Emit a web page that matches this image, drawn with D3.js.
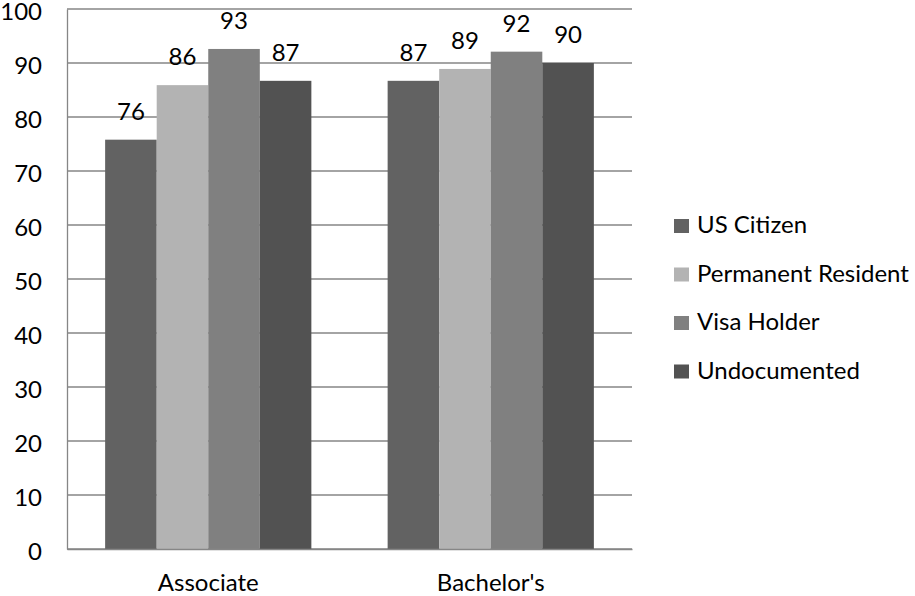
<!DOCTYPE html>
<html>
<head>
<meta charset="utf-8">
<script src="https://cdn.jsdelivr.net/npm/d3@7"></script>
<style>
  html, body { margin: 0; padding: 0; background: #fff; }
  svg { display: block; font-family: Lato, "Open Sans", sans-serif; }
</style>
</head>
<body>
<svg id="chart" width="915" height="596"></svg>
<script>
// ── Data ────────────────────────────────────────────────────────────────────
const categories = ['Associate', "Bachelor's"];
const seriesNames = ['US Citizen', 'Permanent Resident', 'Visa Holder', 'Undocumented'];
const seriesColors = ['#626262', '#b3b3b3', '#808080', '#525252'];
// values per series, one per category
const usCitizen = [75.8, 86.7];
const permanentResident = [85.9, 88.9];
const visaHolder = [92.6, 92.1];
const undocumented = [86.7, 90.0];
const yTicks = [0, 10, 20, 30, 40, 50, 60, 70, 80, 90, 100];

const seriesValues = [usCitizen, permanentResident, visaHolder, undocumented];
const FONT = 24;

// ── Layout ──────────────────────────────────────────────────────────────────
const svg = d3.select('#chart');
const plot = { left: 67, right: 632, top: 9, bottom: 549 };

const x0 = d3.scaleBand().domain(categories).range([plot.left, plot.right]).paddingInner(0.27).paddingOuter(0.135);
const x1 = d3.scaleBand().domain(seriesNames).range([0, x0.bandwidth()]).padding(0);
const y = d3.scaleLinear().domain([0, 100]).range([plot.bottom, plot.top]);

// gridlines
svg.append('g').selectAll('line').data(yTicks).join('line')
  .attr('x1', plot.left).attr('x2', plot.right)
  .attr('y1', d => y(d)).attr('y2', d => y(d))
  .attr('stroke', '#868686').attr('stroke-width', 1.3);

// y axis
const yAxis = svg.append('g').attr('transform', `translate(${plot.left},0)`)
  .call(d3.axisLeft(y).tickValues(yTicks).tickSize(0).tickPadding(25));
yAxis.select('.domain').attr('stroke', '#868686').attr('stroke-width', 1.3);
yAxis.selectAll('text').attr('font-size', FONT).attr('fill', '#000')
  .attr('font-family', 'Lato, sans-serif').attr('dy', '0.42em');

// bars
const groups = svg.append('g').selectAll('g').data(categories).join('g')
  .attr('transform', d => `translate(${x0(d)},0)`);

const cells = (c, ci) => seriesNames.map((s, si) => ({ s, si, v: seriesValues[si][ci] }));

groups.selectAll('rect').data(cells).join('rect')
  .attr('x', d => x1(d.s)).attr('width', x1.bandwidth())
  .attr('y', d => y(d.v)).attr('height', d => y(0) - y(d.v))
  .attr('fill', d => seriesColors[d.si]);

groups.selectAll('text').data(cells).join('text')
  .attr('x', d => x1(d.s) + x1.bandwidth() / 2)
  .attr('y', d => y(d.v) - 20)
  .attr('text-anchor', 'middle')
  .attr('font-size', FONT)
  .text(d => Math.round(d.v));

// x axis
const xAxis = svg.append('g').attr('transform', `translate(0,${plot.bottom})`)
  .call(d3.axisBottom(x0).tickSize(0));
xAxis.select('.domain').attr('stroke', '#868686').attr('stroke-width', 1.3);
xAxis.selectAll('text').attr('font-size', FONT).attr('fill', '#000')
  .attr('font-family', 'Lato, sans-serif').attr('y', 42).attr('dy', 0);

// legend
const legend = svg.append('g').selectAll('g').data(seriesNames).join('g')
  .attr('transform', (d, i) => `translate(674,${225 + i * 48.5})`);
legend.append('rect').attr('x', 0).attr('y', -6).attr('width', 15).attr('height', 14)
  .attr('fill', (d, i) => seriesColors[i]);
legend.append('text').attr('x', 23).attr('dy', '0.35em').attr('font-size', FONT).text(d => d);
</script>
</body>
</html>
